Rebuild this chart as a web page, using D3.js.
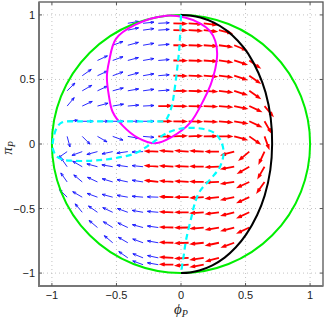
<!DOCTYPE html>
<html><head><meta charset="utf-8">
<script src="https://cdn.jsdelivr.net/npm/d3@7"></script>
<style>body{margin:0;background:#fff;} svg{display:block;}</style>
</head><body>
<script>
// ---- data ----
const xTicks = [-1, -0.5, 0, 0.5, 1];
const yTicks = [-1, -0.5, 0, 0.5, 1];
const xTickLabels = ["\u22121", "\u22120.5", "0", "0.5", "1"];
const yTickLabels = ["\u22121", "\u22120.5", "0", "0.5", "1"];

// quiver grid columns (phi_P)
const gridPhi = [-1, -0.882, -0.765, -0.647, -0.529, -0.412, -0.294, -0.176, -0.059,
                 0.059, 0.176, 0.294, 0.412, 0.529, 0.647, 0.765, 0.882, 1];
// quiver rows (pi_P), first column index, first red column index, arrow angles (deg)
const rowPi = [0.935, 0.882, 0.765, 0.647, 0.529, 0.412, 0.294, 0.176, 0.059,
               -0.059, -0.176, -0.294, -0.412, -0.529, -0.647, -0.765, -0.882, -0.935];
const rowFirstCol = [5, 5, 4, 3, 2, 1, 1, 1, 1, 1, 1, 1, 1, 2, 3, 4, 5, 6];
const rowFirstRed = [8, 8, 8, 8, 8, 8, 7, 7, 7, 7, 7, 7, 8, 8, 8, 8, 8, 8];
const rowAngles = [
  [10, 6, 3, -2, -4, -8],
  [12, 8, 4, -1, -3, -6, -14],
  [20, 15, 10, 5, -1, -2, -4, -8, -22],
  [25, 20, 15, 10, 5, -1, -2, -4, -8, -18, -35],
  [35, 25, 20, 15, 10, 5, -1, -2, -4, -7, -18, -35],
  [45, 30, 25, 15, 10, 8, 4, -1, -2, -4, -7, -18, -35],
  [50, 25, 15, 10, 5, 3, 1, -1, -2, -3, -5, -12, -25, -50],
  [5, 0, 0, 0, 0, 0, 0, -1, -2, -3, -5, -10, -25, -60],
  [-75, -45, -30, -20, -10, -5, -1, 2, 2, 1, 0, -15, -35, -70],
  [215, 200, 195, 192, 188, 182, 178, 176, 176, 177, 180, 195, 220, 245],
  [125, 150, 165, 170, 172, 174, 175, 176, 177, 178, 182, 190, 210, 240],
  [125, 140, 155, 163, 168, 171, 173, 175, 176, 178, 182, 188, 205, 235],
  [135, 150, 160, 165, 170, 175, 178, 178, 180, 183, 186, 192, 205],
  [130, 145, 155, 160, 170, 175, 178, 180, 184, 188, 195, 205],
  [140, 148, 155, 165, 172, 178, 181, 185, 190, 195, 205],
  [140, 150, 160, 170, 178, 182, 186, 192, 200],
  [145, 158, 168, 177, 183, 188, 195],
  [160, 170, 178, 184, 190]
];

const circleRadius = 1;
const blackCurve = [[0,1],[0.07,0.995],[0.15,0.98],[0.255,0.94],[0.352,0.88],[0.44,0.8],[0.52,0.7],
  [0.6,0.55],[0.655,0.4],[0.695,0.2],[0.706,0],[0.692,-0.2],[0.648,-0.4],[0.59,-0.55],[0.505,-0.7],
  [0.425,-0.8],[0.338,-0.88],[0.243,-0.94],[0.142,-0.98],[0.07,-0.995],[0,-1]];
const magentaCurve = [[-0.116,0.993],[-0.357,0.922],[-0.504,0.814],[-0.558,0.636],[-0.574,0.52],
  [-0.558,0.37],[-0.53,0.25],[-0.45,0.14],[-0.33,0.045],[-0.2,0.005],[-0.07,0.055],[0.07,0.163],
  [0.18,0.35],[0.23,0.46],[0.265,0.58],[0.28,0.7],[0.265,0.8],[0.22,0.88],[0.147,0.935],[0.03,0.98]];
const cyanUpper = [[0,1],[-0.005,0.88],[-0.015,0.72],[-0.03,0.58],[-0.05,0.42],[-0.07,0.3],
  [-0.1,0.215],[-0.125,0.18],[-0.2,0.175],[-0.4,0.175],[-0.6,0.175],[-0.8,0.175],[-0.92,0.168],
  [-0.96,0.13],[-0.985,0.06],[-0.995,0.0]];
const cyanLower = [[-0.995,-0.03],[-0.97,-0.09],[-0.92,-0.12],[-0.84,-0.13],[-0.7,-0.13],[-0.58,-0.12],
  [-0.46,-0.1],[-0.36,-0.075],[-0.28,-0.03],[-0.22,0.01],[-0.12,0.08],[0.0,0.12],[0.15,0.12],
  [0.26,0.085],[0.31,0.02],[0.33,-0.07],[0.3,-0.18],[0.23,-0.27],[0.15,-0.36],[0.11,-0.45],
  [0.08,-0.57],[0.04,-0.74],[0.02,-0.87],[0.0,-1]];

// ---- drawing ----
const W = 327, H = 320;
const x = d3.scaleLinear().domain([-1.1, 1.1]).range([39, 323]);
const y = d3.scaleLinear().domain([-1.1, 1.1]).range([286, 2]);

const svg = d3.select("body").append("svg").attr("width", W).attr("height", H);

// grid
const g = svg.append("g");
g.selectAll("line.gx").data(xTicks).join("line")
  .attr("x1", d => x(d)).attr("x2", d => x(d)).attr("y1", y(-1.1)).attr("y2", y(1.1))
  .attr("stroke", "#b4b4b4").attr("stroke-width", 0.8).attr("stroke-dasharray", "1,3");
g.selectAll("line.gy").data(yTicks).join("line")
  .attr("y1", d => y(d)).attr("y2", d => y(d)).attr("x1", x(-1.1)).attr("x2", x(1.1))
  .attr("stroke", "#b4b4b4").attr("stroke-width", 0.8).attr("stroke-dasharray", "1,3");

// arrows
const arrows = [];
rowPi.forEach((p, i) => {
  rowAngles[i].forEach((a, j) => {
    const k = rowFirstCol[i] + j;
    arrows.push({phi: gridPhi[k], pi: p, ang: a, red: k >= rowFirstRed[i]});
  });
});
function arrowPath(d) {
  const L = d.red ? 0.093 : 0.085;
  const r = d.ang * Math.PI / 180;
  const tx = x(d.phi), ty = y(d.pi);
  const hx = x(d.phi + L * Math.cos(r)), hy = y(d.pi + L * Math.sin(r));
  const dx = hx - tx, dy = hy - ty, len = Math.hypot(dx, dy);
  const ux = -dx / len, uy = -dy / len;
  const hl = len * (d.red ? 0.3 : 0.32), th = 20 * Math.PI / 180;
  const b1x = hx + hl * (ux * Math.cos(th) - uy * Math.sin(th));
  const b1y = hy + hl * (ux * Math.sin(th) + uy * Math.cos(th));
  const b2x = hx + hl * (ux * Math.cos(-th) - uy * Math.sin(-th));
  const b2y = hy + hl * (ux * Math.sin(-th) + uy * Math.cos(-th));
  return `M${tx},${ty}L${hx},${hy}M${b1x},${b1y}L${hx},${hy}L${b2x},${b2y}`;
}
svg.append("g").selectAll("path").data(arrows).join("path")
  .attr("d", arrowPath)
  .attr("fill", "none")
  .attr("stroke", d => d.red ? "#ff0000" : "#1212ff")
  .attr("stroke-width", d => d.red ? 1.8 : 0.9)
  .attr("stroke-linecap", "butt").attr("stroke-linejoin", "miter");

// curves
const line = d3.line().x(d => x(d[0])).y(d => y(d[1])).curve(d3.curveCatmullRom.alpha(0.5));
const lineClosed = d3.line().x(d => x(d[0])).y(d => y(d[1])).curve(d3.curveCatmullRomClosed.alpha(0.5));

svg.append("circle").attr("cx", x(0)).attr("cy", y(0)).attr("r", x(circleRadius) - x(0))
  .attr("fill", "none").attr("stroke", "#00ee00").attr("stroke-width", 2);
svg.append("path").attr("d", line(blackCurve)).attr("fill", "none")
  .attr("stroke", "#000").attr("stroke-width", 2);
svg.append("path").attr("d", lineClosed(magentaCurve)).attr("fill", "none")
  .attr("stroke", "#ff00ff").attr("stroke-width", 2);
[cyanUpper, cyanLower].forEach(c => {
  svg.append("path").attr("d", line(c)).attr("fill", "none")
    .attr("stroke", "#00ffff").attr("stroke-width", 2.2).attr("stroke-dasharray", "6,4");
});

// box and ticks
svg.append("rect").attr("x", x(-1.1)).attr("y", y(1.1))
  .attr("width", x(1.1) - x(-1.1)).attr("height", y(-1.1) - y(1.1))
  .attr("fill", "none").attr("stroke", "#555").attr("stroke-width", 1.3);
svg.append("path")
  .attr("d", `M${x(-1.1)},${y(1.1)}V${y(-1.1)}H${x(1.1)}`)
  .attr("fill", "none").attr("stroke", "#777").attr("stroke-width", 2);
const tk = svg.append("g").attr("stroke", "#555").attr("stroke-width", 1);
xTicks.forEach(t => {
  tk.append("line").attr("x1", x(t)).attr("x2", x(t)).attr("y1", y(-1.1)).attr("y2", y(-1.1) - 3);
  tk.append("line").attr("x1", x(t)).attr("x2", x(t)).attr("y1", y(1.1)).attr("y2", y(1.1) + 3);
});
yTicks.forEach(t => {
  tk.append("line").attr("y1", y(t)).attr("y2", y(t)).attr("x1", x(-1.1)).attr("x2", x(-1.1) + 3);
  tk.append("line").attr("y1", y(t)).attr("y2", y(t)).attr("x1", x(1.1)).attr("x2", x(1.1) - 3);
});

const font = "'Liberation Sans', Arial, sans-serif";
svg.append("g").selectAll("text").data(xTicks).join("text")
  .attr("x", d => x(d)).attr("y", 299).attr("text-anchor", "middle")
  .attr("font-family", font).attr("font-size", 11).attr("fill", "#222")
  .text((d, i) => xTickLabels[i]);
svg.append("g").selectAll("text").data(yTicks).join("text")
  .attr("x", 35).attr("y", d => y(d) + 4).attr("text-anchor", "end")
  .attr("font-family", font).attr("font-size", 11).attr("fill", "#222")
  .text((d, i) => yTickLabels[i]);

// axis labels
const serif = "'Liberation Serif', 'DejaVu Serif', serif";
const xl = svg.append("text").attr("x", 181).attr("y", 314).attr("text-anchor", "middle")
  .attr("font-family", serif).attr("font-style", "italic").attr("font-size", 15).attr("fill", "#222");
xl.append("tspan").text("\u03D5");
xl.append("tspan").attr("font-size", 10).attr("dy", 3).text("P");
const yl = svg.append("text").attr("transform", "translate(12,148) rotate(-90)")
  .attr("text-anchor", "middle")
  .attr("font-family", serif).attr("font-style", "italic").attr("font-size", 15).attr("fill", "#222");
yl.append("tspan").text("\u03C0");
yl.append("tspan").attr("font-size", 10).attr("dy", 3).text("P");
</script>
</body></html>
